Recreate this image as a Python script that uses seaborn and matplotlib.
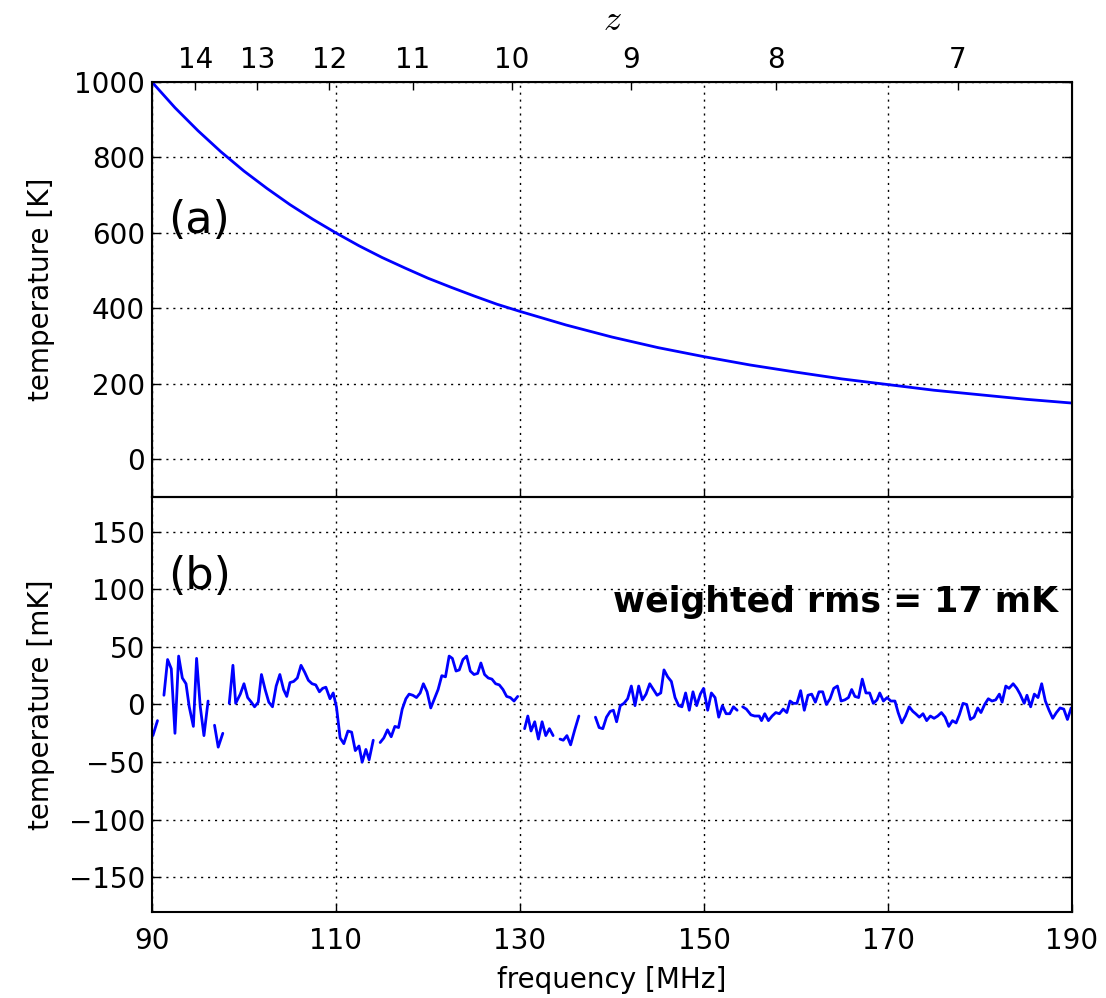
import numpy as np
import pandas as pd
import matplotlib
matplotlib.use("Agg")
import matplotlib.pyplot as plt
import seaborn as sns

# panel (a): sky temperature
freq_a = [90, 92.5, 95, 97.5, 100, 102.5, 105, 107.5, 110, 112.5, 115, 117.5,
          120, 122.5, 125, 127.5, 130, 135, 140, 145, 150, 155, 160, 165,
          170, 175, 180, 185, 190]
temp_a = [1000, 932, 871, 815, 764, 718, 675, 636, 600, 566, 535, 507,
          480, 456, 433, 411, 392, 356, 324, 296, 272, 250, 231, 213,
          198, 183, 171, 159, 149]

# panel (b): residuals in mK, nan marks a flagged gap
freq_b = [
    90.1, 90.6, 90.9,
    91.3, 91.7, 92.1, 92.5, 92.9, 93.3, 93.7, 94.05, 94.5, 94.85, 95.25, 95.65, 96.1, 96.4,
    96.8, 97.2, 97.7, 98.0,
    98.4, 98.8, 99.1, 99.6, 100.0, 100.4, 100.8, 101.15, 101.55, 101.9, 102.3, 102.7,
    103.1, 103.5, 103.9, 104.3, 104.65, 105.0, 105.4, 105.8, 106.2, 106.6, 107.0, 107.4,
    107.8, 108.2, 108.55, 108.9, 109.35, 109.7, 110.05, 110.45, 110.85, 111.3, 111.7,
    112.1, 112.5, 112.85, 113.25, 113.6, 114.05, 114.4,
    114.8, 115.2, 115.6, 116.0, 116.4, 116.8, 117.2, 117.6, 117.95, 118.35, 118.75,
    119.15, 119.5, 119.9, 120.3, 120.7, 121.1, 121.5, 121.9, 122.3, 122.65, 123.05,
    123.4, 123.8, 124.2, 124.6, 125.0, 125.4, 125.75, 126.15, 126.55, 126.95, 127.35,
    127.75, 128.15, 128.55, 128.95, 129.35, 129.75, 130.1,
    130.5, 130.85, 131.2, 131.6, 132.0, 132.4, 132.8, 133.2, 133.6, 134.0,
    134.35, 134.7, 135.1, 135.5, 135.95, 136.4, 137.3,
    138.2, 138.6, 139.0, 139.4, 139.8, 140.15, 140.5, 140.9, 141.3, 141.7, 142.1, 142.5,
    142.9, 143.3, 143.7, 144.1, 144.5, 144.9, 145.3, 145.65, 146.05, 146.45, 146.85,
    147.25, 147.6, 148.0, 148.4, 148.8, 149.2, 149.6, 149.95, 150.4, 150.8, 151.2,
    151.6, 152.0, 152.4, 152.8, 153.2, 153.6, 153.9,
    154.2, 154.6, 155.1, 155.5, 156.0, 156.25, 156.6, 157.0, 157.4, 157.8, 158.2, 158.6,
    159.0, 159.35, 159.7, 160.1, 160.5, 160.9, 161.3, 161.7, 162.1, 162.5, 162.9, 163.3,
    163.7, 164.1, 164.5, 164.9, 165.3, 165.7, 166.05, 166.4, 166.8, 167.2, 167.6, 168.0,
    168.4, 168.8, 169.1, 169.5, 169.9, 170.3, 170.75, 171.1, 171.5, 171.9, 172.3, 172.7,
    173.0, 173.4, 173.8, 174.2, 174.6, 175.0, 175.4, 175.8, 176.2, 176.6, 177.0, 177.4,
    177.75, 178.15, 178.55, 178.95, 179.35, 179.75, 180.1, 180.5, 180.9, 181.3, 181.7,
    182.1, 182.4, 182.8, 183.15, 183.6, 184.0, 184.35, 184.8, 185.1, 185.5, 185.9, 186.3,
    186.7, 187.1, 187.5, 187.9, 188.3, 188.7, 189.1, 189.5, 189.9,
]
resid_b = [
    -27, -14, np.nan,
    8, 39, 31, -25, 42, 23, 18, -2, -19, 40, -2, -27, 3, np.nan,
    -18, -37, -25, np.nan,
    1, 34, 1, 9, 18, 6, 2, -2, 2, 26, 13, 2,
    -2, 16, 26, 13, 7, 19, 20, 23, 34, 28, 21, 18,
    17, 11, 14, 15, 5, 10, -2, -29, -34, -23, -24,
    -40, -36, -50, -39, -48, -31, np.nan,
    -33, -29, -22, -28, -19, -20, -4, 5, 9, 8, 6,
    10, 18, 11, -3, 5, 13, 25, 24, 42, 40, 29,
    30, 39, 42, 29, 26, 27, 36, 26, 23, 22, 18,
    17, 13, 7, 6, 3, 7, np.nan,
    -21, -10, -23, -15, -30, -15, -27, -21, -27, np.nan,
    -30, -31, -27, -35, -22, -10, np.nan,
    -11, -20, -21, -11, -6, -5, -15, -1, 1, 5, 16, -1,
    16, 4, 9, 18, 13, 8, 10, 30, 24, 20, 6,
    -1, -2, 10, -5, 11, -1, 9, 14, -5, 10, 6,
    -11, -1, -8, -8, -2, -5, np.nan,
    -2, -4, -9, -10, -10, -14, -8, -14, -10, -7, -8, -4,
    -7, 3, 1, 1, 12, -5, 8, 9, 2, 11, 11, 0,
    5, 14, 16, 3, 4, 6, 13, 7, 6, 22, 10, 10,
    1, 4, 10, 3, 6, 3, 3, -7, -16, -10, -2, -6,
    -8, -11, -8, -14, -10, -12, -10, -7, -11, -19, -14, -16,
    -9, 1, 0, -13, -11, -3, -7, 0, 5, 3, 4,
    9, 2, 16, 14, 18, 14, 9, 1, 8, -2, 9, 6,
    18, 3, -5, -12, -7, -3, -4, -13, -3,
]

z_ticks = [14, 13, 12, 11, 10, 9, 8, 7]
nu_21 = 1420.405  # MHz

sns.set_style("ticks", {"xtick.direction": "in", "ytick.direction": "in",
                        "axes.edgecolor": "black", "text.color": "black",
                        "axes.labelcolor": "black", "xtick.color": "black",
                        "ytick.color": "black"})
plt.rcParams["font.family"] = ["DejaVu Sans"]
plt.rcParams["mathtext.fontset"] = "cm"

fig, (ax1, ax2) = plt.subplots(2, 1, figsize=(11.06, 9.98), dpi=100, sharex=True)
fig.subplots_adjust(left=0.1374, right=0.9693, top=0.9178, bottom=0.0862, hspace=0)

sns.lineplot(x=freq_a, y=temp_a, color="blue", linewidth=2, ax=ax1)

df = pd.DataFrame({"freq": freq_b, "resid": resid_b})
df["seg"] = df["resid"].isna().cumsum()
df = df.dropna()
sns.lineplot(data=df, x="freq", y="resid", units="seg", estimator=None,
             color="blue", linewidth=2, ax=ax2)

grid_kw = dict(color="black", linewidth=1, linestyle=(0, (1.5, 3.5)))
for ax in (ax1, ax2):
    ax.set_xlim(90, 190)
    ax.set_xticks(range(90, 191, 20))
    ax.grid(True, **grid_kw)
    ax.tick_params(direction="in", length=6, width=1, labelsize=20,
                   right=True, top=False)
    ax.tick_params(axis="y", pad=5)
    ax.tick_params(axis="x", pad=11)
    for s in ax.spines.values():
        s.set_linewidth(1.5)

ax1.set_ylim(-100, 1000)
ax1.set_yticks(range(0, 1001, 200))
ax1.tick_params(labelbottom=False)
ax1.set_ylabel("temperature [K]", fontsize=20, labelpad=10)
ax1.text(91.8, 600, "(a)", fontsize=32)

ax2.set_ylim(-180, 180)
ax2.set_yticks(range(-150, 151, 50))
ax2.set_ylabel("temperature [mK]", fontsize=20, labelpad=10)
ax2.set_xlabel("frequency [MHz]", fontsize=20, labelpad=8)
ax2.text(91.8, 100, "(b)", fontsize=32)
ax2.text(188.5, 80, "weighted rms = 17 mK", fontsize=25,
         fontweight="bold", ha="right")
fig.align_ylabels([ax1, ax2])

# redshift axis on top
ax_top = ax1.twiny()
ax_top.set_xlim(90, 190)
ax_top.set_xticks([nu_21 / (1 + z) for z in z_ticks])
ax_top.set_xticklabels([str(z) for z in z_ticks])
ax_top.tick_params(direction="in", length=6, width=1, labelsize=20, pad=6)
ax_top.grid(False)
ax_top.set_xlabel("$z$", fontsize=26, labelpad=11)

fig.savefig("out.png", dpi=100)
